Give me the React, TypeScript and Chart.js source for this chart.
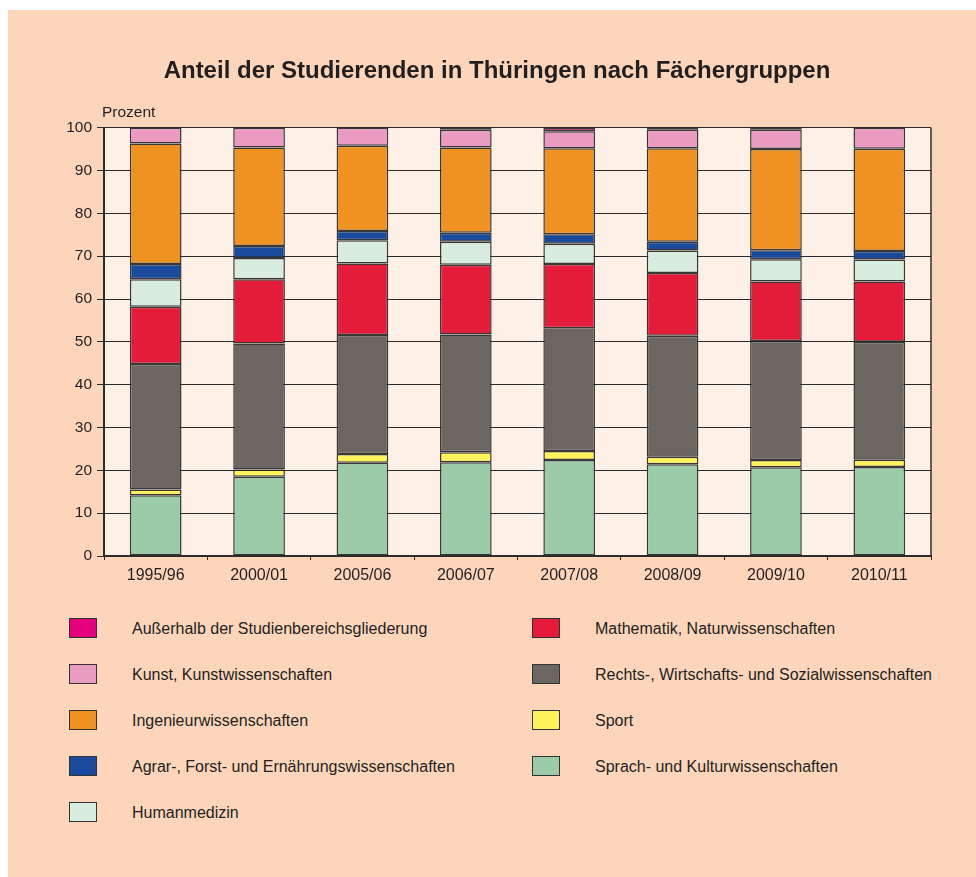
import React, { useEffect, useRef } from "react";
import { Chart, registerables } from "chart.js";
Chart.register(...registerables);

const categories = ["1995/96", "2000/01", "2005/06", "2006/07", "2007/08", "2008/09", "2009/10", "2010/11"];
const sprach = [14.2, 18.5, 21.8, 21.9, 22.4, 21.4, 20.7, 20.8];
const sport = [1.3, 1.7, 2.0, 2.3, 2.1, 1.8, 1.7, 1.7];
const rechts = [29.3, 29.4, 27.8, 27.5, 28.7, 28.2, 27.8, 27.5];
const mathe = [13.4, 15.0, 16.7, 16.3, 15.0, 14.7, 13.9, 14.1];
const human = [6.4, 5.0, 5.4, 5.4, 4.7, 5.2, 5.2, 5.1];
const agrar = [3.6, 2.8, 2.2, 2.1, 2.2, 2.1, 2.1, 2.0];
const ingenieur = [28.1, 23.0, 19.9, 19.9, 20.1, 21.8, 23.6, 23.9];
const kunst = [3.7, 4.6, 4.2, 4.1, 4.0, 4.3, 4.5, 4.9];
const ausser = [0, 0, 0, 0.5, 0.8, 0.5, 0.5, 0];

const seriesNames = [
  "Sprach- und Kulturwissenschaften",
  "Sport",
  "Rechts-, Wirtschafts- und Sozialwissenschaften",
  "Mathematik, Naturwissenschaften",
  "Humanmedizin",
  "Agrar-, Forst- und Ernährungswissenschaften",
  "Ingenieurwissenschaften",
  "Kunst, Kunstwissenschaften",
  "Außerhalb der Studienbereichsgliederung",
];
const seriesValues = [sprach, sport, rechts, mathe, human, agrar, ingenieur, kunst, ausser];
const seriesColors = [
  "#9bcba8",
  "#fff35c",
  "#6b6661",
  "#e51b3a",
  "#d8ecdf",
  "#1a4a9c",
  "#ef9221",
  "#ea9bc2",
  "#e6007e",
];
const yTicks = [0, 10, 20, 30, 40, 50, 60, 70, 80, 90, 100];
const titleText = "Anteil der Studierenden in Thüringen nach Fächergruppen";
const yUnit = "Prozent";

const FONT = "'Liberation Sans', Arial, Helvetica, sans-serif";
const TEXT = "#231f20";
const LINE = "#2b2b2b";

const bgPlugin = {
  id: "plotBg",
  beforeDraw(chart: any) {
    const { ctx, chartArea } = chart;
    ctx.save();
    ctx.fillStyle = "#fdf0e6";
    ctx.fillRect(chartArea.left, chartArea.top, chartArea.right - chartArea.left, chartArea.bottom - chartArea.top);
    ctx.restore();
  },
  beforeDatasetsDraw(chart: any) {
    const { ctx, chartArea } = chart;
    ctx.save();
    ctx.strokeStyle = LINE;
    ctx.lineWidth = 1.5;
    ctx.beginPath();
    ctx.moveTo(chartArea.right, chartArea.top);
    ctx.lineTo(chartArea.right, chartArea.bottom);
    ctx.stroke();
    ctx.restore();
  },
  afterDraw(chart: any) {
    const { ctx, chartArea } = chart;
    ctx.save();
    ctx.font = `15.5px ${FONT}`;
    ctx.fillStyle = TEXT;
    ctx.textAlign = "left";
    ctx.textBaseline = "middle";
    ctx.fillText(yUnit, chartArea.left - 2, chartArea.top - 14.5);
    ctx.restore();
  },
};

export default function App() {
  const ref = useRef<HTMLCanvasElement>(null);
  useEffect(() => {
    if (!ref.current) return;
    const chart = new Chart(ref.current, {
      type: "bar",
      data: {
        labels: categories,
        datasets: seriesNames.map((name, i) => ({
          label: name,
          data: seriesValues[i],
          backgroundColor: seriesColors[i],
          borderColor: "rgba(35,35,35,0.9)",
          borderWidth: 1.5,
          borderSkipped: false,
          barPercentage: 0.5,
          categoryPercentage: 1.0,
          yAxisID: "y",
        })),
      },
      options: {
        responsive: false,
        animation: false,
        devicePixelRatio: 1,
        layout: { padding: { left: 10, right: 0, top: 0, bottom: 0 } },
        plugins: {
          legend: { display: false },
          tooltip: { enabled: false },
          title: {
            display: true,
            text: titleText,
            color: TEXT,
            font: { family: FONT, size: 24, weight: "bold" },
            padding: { top: 46.6, bottom: 42.3 },
          },
        },
        scales: {
          x: {
            stacked: true,
            grid: { display: true, drawOnChartArea: false, offset: true, tickLength: 4, color: LINE },
            border: { display: true, color: LINE, width: 2 },
            ticks: { color: TEXT, font: { family: FONT, size: 16 }, padding: 6 },
            afterFit: (scale: any) => {
              scale.height = 54;
            },
          },
          y: {
            stacked: true,
            min: 0,
            max: 100,
            afterBuildTicks: (scale: any) => {
              scale.ticks = yTicks.map((v) => ({ value: v }));
            },
            grid: { color: LINE, lineWidth: 1, tickLength: 7 },
            border: { display: true, color: LINE, width: 2 },
            ticks: { color: TEXT, font: { family: FONT, size: 15.5 }, padding: 5 },
            afterFit: (scale: any) => {
              scale.width = 86;
            },
          },
          yRight: {
            position: "right",
            min: 0,
            max: 100,
            display: true,
            grid: { display: false, drawOnChartArea: false },
            border: { display: false },
            ticks: { display: false },
            afterFit: (scale: any) => {
              scale.width = 45;
            },
          },
        },
      },
      plugins: [bgPlugin],
    } as any);
    return () => chart.destroy();
  }, []);

  const legendOrder = seriesNames.map((_, i) => i).reverse();
  const leftCol = legendOrder.slice(0, 5);
  const rightCol = legendOrder.slice(5);

  const item = (idx: number, row: number, col: number) => (
    <div key={idx}>
      <div
        style={{
          position: "absolute",
          left: col === 0 ? 61 : 524,
          top: 608 + row * 46,
          width: 28,
          height: 20,
          boxSizing: "border-box",
          background: seriesColors[idx],
          border: "1.5px solid #333",
        }}
      />
      <div
        style={{
          position: "absolute",
          left: col === 0 ? 124 : 587,
          top: 608 + row * 46 + 11,
          transform: "translateY(-50%)",
          font: `16px ${FONT}`,
          color: TEXT,
          whiteSpace: "nowrap",
        }}
      >
        {seriesNames[idx]}
      </div>
    </div>
  );

  return (
    <div
      style={{
        position: "absolute",
        left: 8,
        top: 10,
        width: 968,
        height: 867,
        background: "#fdd5bb",
        overflow: "hidden",
      }}
    >
      <canvas ref={ref} width={968} height={600} style={{ position: "absolute", left: 0, top: 0 }} />
      {leftCol.map((idx, r) => item(idx, r, 0))}
      {rightCol.map((idx, r) => item(idx, r, 1))}
    </div>
  );
}
